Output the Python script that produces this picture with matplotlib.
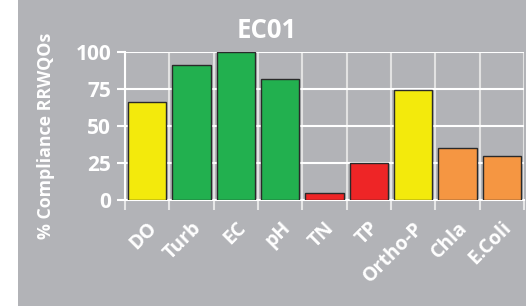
import matplotlib.pyplot as plt
import numpy as np
from matplotlib.patches import Rectangle

params = ['DO', 'Turb', 'EC', 'pH', 'TN', 'TP', 'Ortho-P', 'Chla', 'E.Coli']
compliance = [66, 91, 100, 82, 5, 25, 74, 35, 30]
colors = ['#f3ea0c', '#22b04f', '#22b04f', '#22b04f', '#ee2526', '#ee2526',
          '#f3ea0c', '#f59642', '#f59642']

bg = '#b2b3b7'
plt.rcParams['font.family'] = ['Open Sans', 'DejaVu Sans']
plt.rcParams['font.weight'] = 'bold'

fig = plt.figure(figsize=(5.26, 3.07), dpi=100, facecolor=bg)
# white margin on the left and a hairline at the bottom
fig.patches.append(Rectangle((0, 0), 18 / 526, 1, transform=fig.transFigure,
                             facecolor='white', edgecolor='none', zorder=-1))
fig.patches.append(Rectangle((0, 0), 1, 1 / 307, transform=fig.transFigure,
                             facecolor='white', edgecolor='none', zorder=-1))
ax = fig.add_axes([0.2376, 0.3485, 0.7585, 0.4821], facecolor=bg)

x = np.arange(len(params))
ax.bar(x, compliance, width=0.86, color=colors, edgecolor='#2a2a2a', linewidth=1, zorder=3)

ax.set_xlim(-0.5, len(params) - 0.5)
ax.set_ylim(0, 100)
ax.set_yticks([0, 25, 50, 75, 100])
ax.set_xticks(x)
ax.set_xticklabels(params, rotation=45, ha='right', rotation_mode='anchor',
                   color='white', fontsize=14, fontweight='bold')
ax.set_xticks(np.arange(-0.5, len(params)), minor=True)
ax.tick_params(axis='x', which='major', length=0, pad=13)
ax.tick_params(axis='x', which='minor', length=7, width=1.5, color='#e6e6e6')
ax.tick_params(axis='y', length=6, width=1.5, color='white', labelcolor='white',
               labelsize=15, pad=4)
for lab in ax.get_yticklabels():
    lab.set_fontweight('bold')

ax.grid(axis='y', color='white', linewidth=1.5, zorder=0)
ax.grid(axis='x', which='minor', color='#e2e2e2', linewidth=1.5, zorder=0)
for s in ['top', 'right']:
    ax.spines[s].set_visible(False)
ax.spines['left'].set_color('white')
ax.spines['left'].set_linewidth(1.5)
ax.spines['bottom'].set_color('white')
ax.spines['bottom'].set_linewidth(1.5)

ax.set_ylabel('% Compliance RRWQOs', color='white', fontsize=12.8, fontweight='bold')
ax.yaxis.set_label_coords(-0.176, 0.43)
fig.text(0.507, 0.902, 'EC01', color='white', fontsize=18.5, fontweight='bold', ha='center', va='center')

fig.savefig('out.png', dpi=100, facecolor=bg)
